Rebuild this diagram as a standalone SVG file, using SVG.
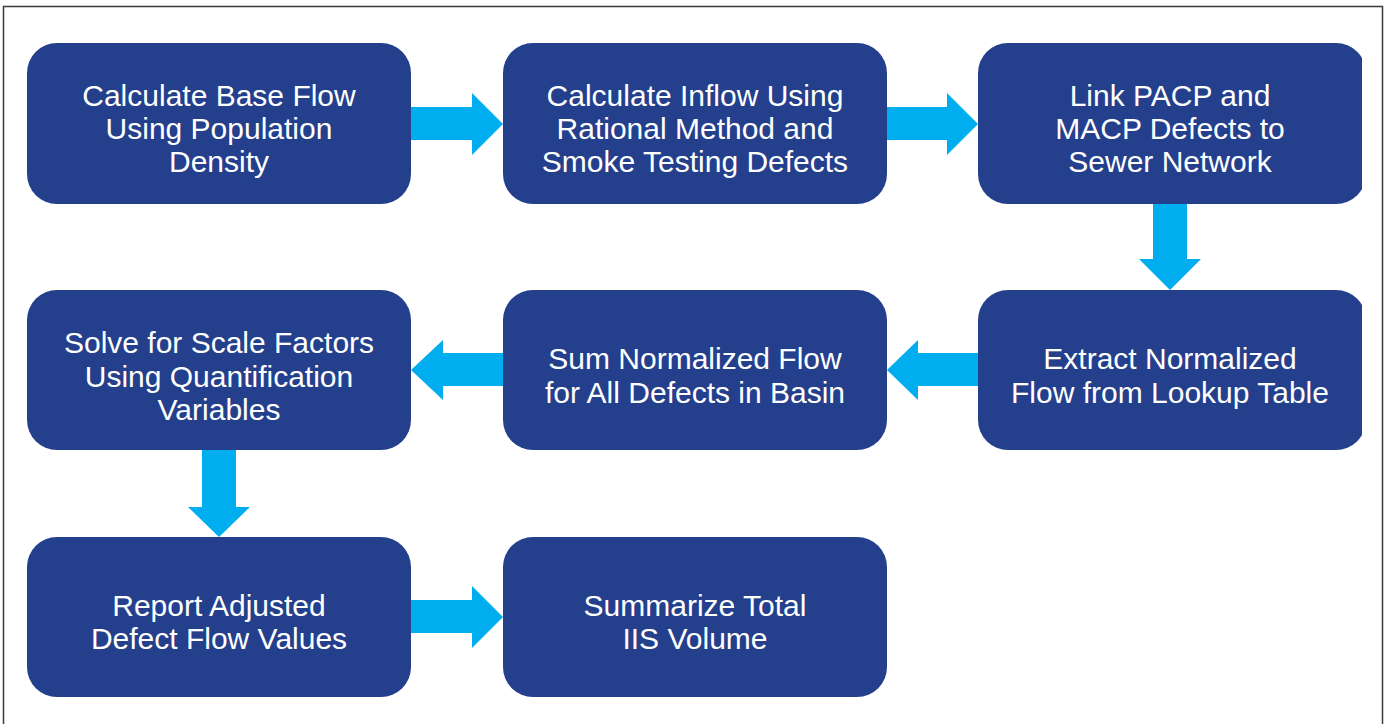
<svg xmlns="http://www.w3.org/2000/svg" width="1388" height="724" viewBox="0 0 1388 724">
  <style>
    .box { fill: #243f8c; }
    .arrow { fill: #00aeef; }
    .label { fill: #ffffff; font-family: "Liberation Sans", Arial, sans-serif; font-size: 30px; text-anchor: middle; }
    .frame { fill: none; stroke: #3a3a3a; stroke-width: 1.5; }
  </style>
  <defs>
    <clipPath id="clipRight">
      <rect x="0" y="0" width="1362" height="724"/>
    </clipPath>
  </defs>

  <rect x="0" y="0" width="1388" height="724" fill="#ffffff"/>
  <!-- outer frame (bottom edge runs off the page) -->
  <rect class="frame" x="3.5" y="6.5" width="1379" height="730"/>

  <!-- connectors: block arrows -->
  <g id="connectors">
    <!-- row 1: step 1 -> step 2 -->
    <polygon class="arrow" points="411,107 472,107 472,93 503,124 472,155 472,140 411,140"/>
    <!-- row 1: step 2 -> step 3 -->
    <polygon class="arrow" points="887,107 947,107 947,93 978,124 947,155 947,140 887,140"/>
    <!-- step 3 down to step 4 -->
    <polygon class="arrow" points="1153,204 1187,204 1187,259 1201,259 1170,290 1139,259 1153,259"/>
    <!-- row 2: step 4 -> step 5 (leftward) -->
    <polygon class="arrow" points="978,353 918,353 918,340 887,370 918,400 918,386 978,386"/>
    <!-- row 2: step 5 -> step 6 (leftward) -->
    <polygon class="arrow" points="503,353 443,353 443,340 411,370 443,400 443,386 503,386"/>
    <!-- step 6 down to step 7 -->
    <polygon class="arrow" points="202,450 236,450 236,507 250,507 219,537 188,507 202,507"/>
    <!-- row 3: step 7 -> step 8 -->
    <polygon class="arrow" points="411,600 472,600 472,586 503,617 472,648 472,633 411,633"/>
  </g>

  <g id="node-base-flow">
    <rect class="box" x="27" y="43" width="384" height="161" rx="30"/>
    <text class="label" x="219" y="106">Calculate Base Flow</text>
    <text class="label" x="219" y="139">Using Population</text>
    <text class="label" x="219" y="172">Density</text>
  </g>

  <g id="node-inflow">
    <rect class="box" x="503" y="43" width="384" height="161" rx="30"/>
    <text class="label" x="695" y="106">Calculate Inflow Using</text>
    <text class="label" x="695" y="139">Rational Method and</text>
    <text class="label" x="695" y="172">Smoke Testing Defects</text>
  </g>

  <g id="node-link-defects" clip-path="url(#clipRight)">
    <rect class="box" x="978" y="43" width="388" height="161" rx="30"/>
    <text class="label" x="1170" y="106">Link PACP and</text>
    <text class="label" x="1170" y="139">MACP Defects to</text>
    <text class="label" x="1170" y="172">Sewer Network</text>
  </g>

  <g id="node-extract" clip-path="url(#clipRight)">
    <rect class="box" x="978" y="290" width="388" height="160" rx="30"/>
    <text class="label" x="1170" y="369">Extract Normalized</text>
    <text class="label" x="1170" y="403">Flow from Lookup Table</text>
  </g>

  <g id="node-sum">
    <rect class="box" x="503" y="290" width="384" height="160" rx="30"/>
    <text class="label" x="695" y="369">Sum Normalized Flow</text>
    <text class="label" x="695" y="403">for All Defects in Basin</text>
  </g>

  <g id="node-scale-factors">
    <rect class="box" x="27" y="290" width="384" height="160" rx="30"/>
    <text class="label" x="219" y="353">Solve for Scale Factors</text>
    <text class="label" x="219" y="387">Using Quantification</text>
    <text class="label" x="219" y="420">Variables</text>
  </g>

  <g id="node-report">
    <rect class="box" x="27" y="537" width="384" height="160" rx="30"/>
    <text class="label" x="219" y="616">Report Adjusted</text>
    <text class="label" x="219" y="649">Defect Flow Values</text>
  </g>

  <g id="node-summarize">
    <rect class="box" x="503" y="537" width="384" height="160" rx="30"/>
    <text class="label" x="695" y="616">Summarize Total</text>
    <text class="label" x="695" y="649">IIS Volume</text>
  </g>
</svg>
